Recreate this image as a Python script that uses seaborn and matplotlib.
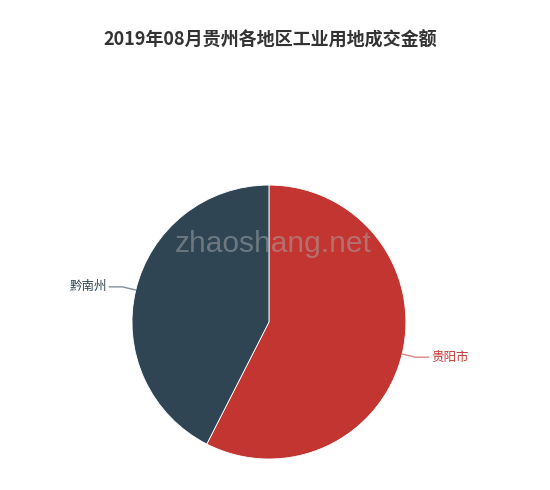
import numpy as np
import matplotlib
matplotlib.use("Agg")
import matplotlib.pyplot as plt
import seaborn as sns

# 2019年08月 贵州各地区工业用地成交金额 (占比估读)
regions = ["贵阳市", "黔南州"]
amounts = [57.5, 42.5]
colors = ["#c23531", "#2f4554"]
title = "2019年08月贵州各地区工业用地成交金额"

sns.set_theme(style="white")
plt.rcParams["font.family"] = ["Noto Sans CJK SC", "DejaVu Sans"]

fig = plt.figure(figsize=(5.5, 4.9), dpi=100)
fig.patch.set_facecolor("white")
fig.text(0.491, 0.918, title, ha="center", va="center", fontsize=13,
         fontweight="bold", color="#333333")

ax = fig.add_axes([0.24, 0.0633, 0.498, 0.559])
wedges, _ = ax.pie(amounts, colors=colors, startangle=90, counterclock=False,
                   radius=1.0, wedgeprops=dict(linewidth=0.6, edgecolor="white"))
ax.set_xlim(-1, 1)
ax.set_ylim(-1, 1)
ax.set_aspect("auto")
ax.axis("off")

# 标签引导线
for w, name, c in zip(wedges, regions, colors):
    mid = np.deg2rad((w.theta1 + w.theta2) / 2)
    x0, y0 = np.cos(mid), np.sin(mid)
    x1, y1 = 1.1 * x0, 1.1 * y0
    side = np.sign(x0)
    x2 = x1 + side * 0.1
    ax.plot([x0, x1, x2], [y0, y1, y1], color=c, alpha=0.6, lw=1,
            clip_on=False, solid_capstyle="butt")
    ax.text(x2 + side * 0.015, y1, name, ha="left" if side > 0 else "right",
            va="center", fontsize=9, color=c, clip_on=False)

# 水印
fig.text(0.497, 0.503, "zhaoshang.net", ha="center", va="center",
         fontsize=21.5, color="#aaaaaa", alpha=0.5, family="Liberation Sans")

fig.savefig("out.png", dpi=100, facecolor="white")
